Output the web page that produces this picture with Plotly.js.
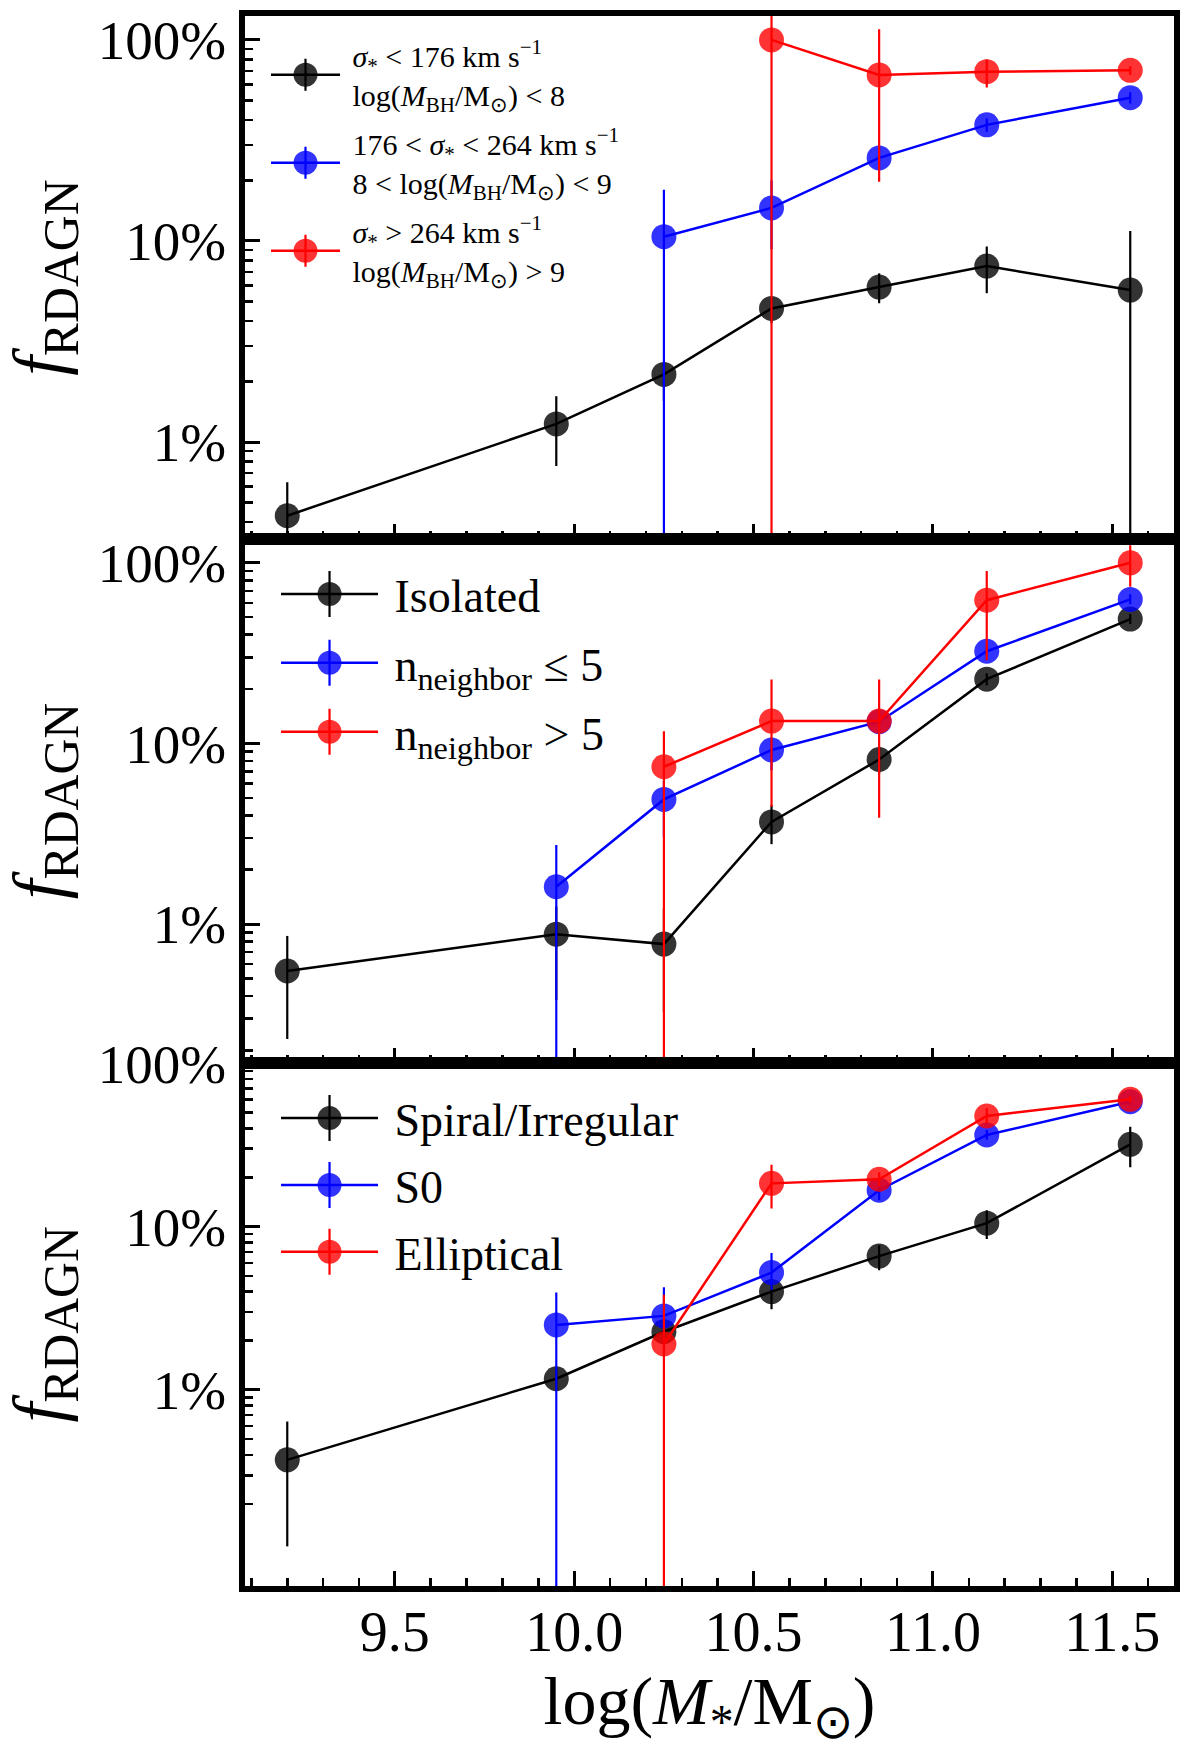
<!DOCTYPE html>
<html><head><meta charset="utf-8">
<script src="https://cdn.plot.ly/plotly-3.0.1.min.js"></script>
<style>body{margin:0;background:#fff}#chart{width:1200px;height:1755px}</style>
</head><body><div id="chart"></div>
<script>
// ---------------- data (fractions; errors given as bar ends) ----------------
const massAll  = [9.2, 9.95, 10.25, 10.55, 10.85, 11.15, 11.55];
const massFrom995  = [9.95, 10.25, 10.55, 10.85, 11.15, 11.55];
const massFrom1025 = [10.25, 10.55, 10.85, 11.15, 11.55];
const massFrom1055 = [10.55, 10.85, 11.15, 11.55];

// Panel 1: velocity dispersion / black-hole mass
const p1LowY   = [0.0043, 0.0123, 0.0217, 0.0462, 0.059, 0.075, 0.057];
const p1LowHi  = [0.0063, 0.0169, 0.0245, 0.052, 0.069, 0.094, 0.112];
const p1LowLo  = [0.0001, 0.0076, 0.016, 0.039, 0.049, 0.055, 0.0001];
const p1MidY   = [0.105, 0.146, 0.259, 0.378, 0.516];
const p1MidHi  = [0.18, 0.20, 0.295, 0.407, 0.55];
const p1MidLo  = [0.0001, 0.091, 0.225, 0.349, 0.483];
const p1HighY  = [1.0, 0.67, 0.695, 0.706];
const p1HighHi = [10, 1.13, 0.80, 0.74];
const p1HighLo = [0.0001, 0.197, 0.58, 0.67];

// Panel 2: environment
const p2IsoY   = [0.0055, 0.0088, 0.00775, 0.0368, 0.0815, 0.227, 0.488];
const p2IsoHi  = [0.0086, 0.0125, 0.0122, 0.0456, 0.096, 0.245, 0.52];
const p2IsoLo  = [0.00231, 0.0038, 0.00327, 0.0277, 0.068, 0.21, 0.458];
const p2FewY   = [0.0161, 0.049, 0.092, 0.132, 0.324, 0.627];
const p2FewHi  = [0.0274, 0.062, 0.108, 0.145, 0.36, 0.67];
const p2FewLo  = [0.0001, 0.0304, 0.071, 0.12, 0.29, 0.59];
const p2ManyY  = [0.0743, 0.133, 0.133, 0.621, 1.0];
const p2ManyHi = [0.117, 0.226, 0.226, 0.90, 1.25];
const p2ManyLo = [0.0001, 0.0446, 0.0388, 0.289, 0.736];

// Panel 3: morphology
const p3SpY   = [0.00373, 0.0117, 0.0227, 0.040, 0.066, 0.105, 0.319];
const p3SpHi  = [0.0064, 0.0135, 0.026, 0.046, 0.077, 0.126, 0.409];
const p3SpLo  = [0.0011, 0.0100, 0.0198, 0.0312, 0.054, 0.084, 0.231];
const p3S0Y   = [0.025, 0.0284, 0.0523, 0.167, 0.364, 0.582];
const p3S0Hi  = [0.0395, 0.0425, 0.069, 0.19, 0.39, 0.61];
const p3S0Lo  = [0.0001, 0.0198, 0.041, 0.145, 0.34, 0.555];
const p3EllY  = [0.0191, 0.184, 0.195, 0.476, 0.602];
const p3EllHi = [0.0382, 0.239, 0.215, 0.53, 0.63];
const p3EllLo = [0.0001, 0.129, 0.176, 0.43, 0.575];

// tick labels
const xTickVals = [9.5, 10.0, 10.5, 11.0, 11.5];
const xTickText = ['9.5', '10.0', '10.5', '11.0', '11.5'];
const yTickVals = [0.01, 0.1, 1];
const yTickText = ['1%', '10%', '100%'];

// legend labels (nbsp gives math-style spacing around relations)
const LT = '\u00a0&lt;\u00a0', GT = '\u00a0&gt;\u00a0';
const p1Names = [
  '<i>σ</i><sub>*</sub>' + LT + '176 km s<sup>−1</sup><br>log(<i>M</i><sub>BH</sub>/M<sub>⊙</sub>)' + LT + '8',
  '176' + LT + '<i>σ</i><sub>*</sub>' + LT + '264 km s<sup>−1</sup><br>8' + LT + 'log(<i>M</i><sub>BH</sub>/M<sub>⊙</sub>)' + LT + '9',
  '<i>σ</i><sub>*</sub>' + GT + '264 km s<sup>−1</sup><br>log(<i>M</i><sub>BH</sub>/M<sub>⊙</sub>)' + GT + '9'
];
const p2Names = ['Isolated', 'n<sub>neighbor</sub> ≤ 5', 'n<sub>neighbor</sub> &gt; 5'];
const p3Names = ['Spiral/Irregular', 'S0', 'Elliptical'];

// ---------------- styling ----------------
const FONT = 'Liberation Serif, Times New Roman, serif';
const colors = {k: ['#000000', 'rgba(0,0,0,0.8)'], b: ['#0000ff', 'rgba(0,0,255,0.8)'], r: ['#ff0000', 'rgba(255,0,0,0.8)']};
const PAD = '\u00a0';

function padName(n) { return n.split('<br>').map(s => PAD + s).join('<br>'); }

function series(x, y, hi, lo, c, name, ax, leg, grp) {
  return {
    type: 'scatter', mode: 'lines+markers', x: x, y: y, name: padName(name),
    xaxis: 'x' + ax, yaxis: 'y' + ax, legend: leg, legendgroup: grp,
    line: {color: colors[c][0], width: 2.5},
    marker: {size: 25, color: colors[c][1], line: {width: 0}},
    error_y: {type: 'data', symmetric: false,
      array: y.map((v, i) => hi[i] - v),
      arrayminus: y.map((v, i) => v - lo[i]),
      color: colors[c][0], thickness: 2.2, width: 0}
  };
}

const traces = [
  series(massAll, p1LowY, p1LowHi, p1LowLo, 'k', p1Names[0], '', 'legend', 'a1'),
  series(massFrom1025, p1MidY, p1MidHi, p1MidLo, 'b', p1Names[1], '', 'legend', 'b1'),
  series(massFrom1055, p1HighY, p1HighHi, p1HighLo, 'r', p1Names[2], '', 'legend', 'c1'),
  series(massAll, p2IsoY, p2IsoHi, p2IsoLo, 'k', p2Names[0], '2', 'legend2', 'a2'),
  series(massFrom995, p2FewY, p2FewHi, p2FewLo, 'b', p2Names[1], '2', 'legend2', 'b2'),
  series(massFrom1025, p2ManyY, p2ManyHi, p2ManyLo, 'r', p2Names[2], '2', 'legend2', 'c2'),
  series(massAll, p3SpY, p3SpHi, p3SpLo, 'k', p3Names[0], '3', 'legend3', 'a3'),
  series(massFrom995, p3S0Y, p3S0Hi, p3S0Lo, 'b', p3Names[1], '3', 'legend3', 'b3'),
  series(massFrom1025, p3EllY, p3EllHi, p3EllLo, 'r', p3Names[2], '3', 'legend3', 'c3')
];

const xMinor = [];
for (let k = 91; k <= 116; k++) { if (k % 5 !== 0) xMinor.push(k / 10); }
const yMinor = [];
[0.001, 0.01, 0.1, 1].forEach(d => { for (let m = 2; m <= 9; m++) yMinor.push(m * d); });

function xAxis(anchor, labels) {
  return {
    anchor: anchor, domain: [0, 1], range: [9.0822, 11.672], type: 'linear',
    tickmode: 'array', tickvals: xTickVals, ticktext: xTickText, showticklabels: labels,
    ticks: 'inside', ticklen: 15, tickwidth: 3, tickcolor: '#000',
    minor: {tickmode: 'array', tickvals: xMinor, ticks: 'inside', ticklen: 8, tickwidth: 2.5, tickcolor: '#000'},
    showline: true, linewidth: 6, linecolor: '#000', mirror: true,
    showgrid: false, zeroline: false, ticklabelstandoff: -8,
    tickfont: {family: FONT, size: 56, color: '#000'}
  };
}
function yAxis(anchor, dom, rng) {
  return {
    anchor: anchor, domain: dom, type: 'log', range: rng,
    tickmode: 'array', tickvals: yTickVals, ticktext: yTickText,
    ticks: 'inside', ticklen: 15, tickwidth: 3, tickcolor: '#000',
    minor: {tickmode: 'array', tickvals: yMinor, ticks: 'inside', ticklen: 8, tickwidth: 2.5, tickcolor: '#000'},
    showline: true, linewidth: 6, linecolor: '#000', mirror: true,
    showgrid: false, zeroline: false, ticklabelstandoff: 2,
    tickfont: {family: FONT, size: 55, color: '#000'},
    title: {text: '<i>f</i><sub>RDAGN</sub>', font: {family: FONT, size: 71, color: '#000'}, standoff: 30}
  };
}

const x3 = xAxis('y3', true);
x3.title = {text: 'log(<i>M</i><sub>*</sub>/M<sub>⊙</sub>)', font: {family: FONT, size: 68, color: '#000'}, standoff: 10};

function legendBox(x, y, size, gap, iw) {
  return {x: x, y: y, xanchor: 'left', yanchor: 'top', bgcolor: 'rgba(0,0,0,0)', borderwidth: 0,
    font: {family: FONT, size: size, color: '#000'}, itemwidth: iw, tracegroupgap: gap, traceorder: 'grouped'};
}

const layout = {
  width: 1200, height: 1755, showlegend: true,
  paper_bgcolor: '#fff', plot_bgcolor: '#fff',
  margin: {l: 245, r: 26, t: 16, b: 169},
  font: {family: FONT, color: '#000'},
  xaxis: xAxis('y', false),
  xaxis2: xAxis('y2', false),
  xaxis3: x3,
  yaxis: yAxis('x', [2/3, 1], [-2.484, 0.119]),
  yaxis2: yAxis('x2', [1/3, 2/3], [-2.767, 0.13]),
  yaxis3: yAxis('x3', [0, 1/3], [-3.201, 0.004]),
  legend: legendBox(0.0226, 0.9915, 30, 7, 69),
  legend2: legendBox(0.0334, 0.655, 46, 6, 97),
  legend3: legendBox(0.0334, 0.3212, 46, 4, 97)
};

// legend glyph: enlarge marker and add the vertical error-bar stroke, as in the reference
const legendBarHalf = {legend: 16, legend2: 23, legend3: 23};

Plotly.newPlot('chart', traces, layout, {displayModeBar: false, staticPlot: true}).then(gd => {
  ['legend', 'legend2', 'legend3'].forEach(name => {
    const box = gd.querySelector('.' + name);
    if (!box) return;
    box.querySelectorAll('.traces').forEach(tr => {
      const pts = tr.querySelector('path.scatterpts');
      const ln = tr.querySelector('.legendlines path');
      if (!pts) return;
      const t = pts.getAttribute('transform') || '';
      pts.setAttribute('transform', t + ' scale(1.5)');
      const col = ln ? ln.style.stroke : '#000';
      const h = legendBarHalf[name];
      const bar = document.createElementNS('http://www.w3.org/2000/svg', 'path');
      bar.setAttribute('d', 'M0,' + (-h) + 'V' + h);
      bar.setAttribute('transform', t);
      bar.style.stroke = col; bar.style.strokeWidth = '2.2px'; bar.style.fill = 'none';
      pts.parentNode.appendChild(bar);
    });
  });
});
</script></body></html>
